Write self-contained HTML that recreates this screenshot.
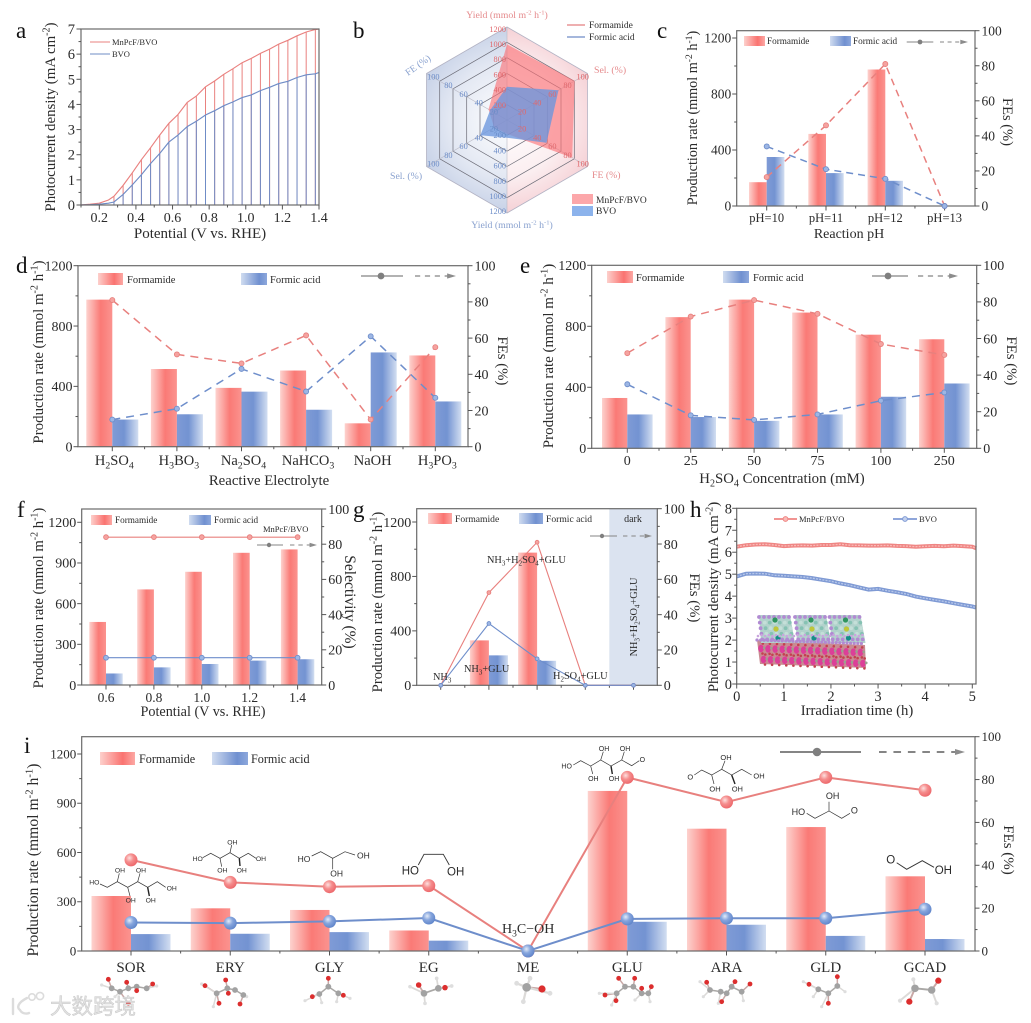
<!DOCTYPE html>
<html lang="en">
<head>
<meta charset="utf-8">
<title>Formamide electrosynthesis performance figure</title>
<style>
html,body{margin:0;padding:0;background:#fff;width:1031px;height:1023px;overflow:hidden}
svg{display:block;filter:blur(0.35px)}
text{font-family:"Liberation Serif","Noto Serif CJK SC",serif;fill:#2b2b2b}
</style>
</head>
<body>
<svg id="fig" xmlns="http://www.w3.org/2000/svg" width="1031" height="1023" viewBox="0 0 1031 1023">
<defs>
<linearGradient id="barForm" x1="0" x2="1" y1="0" y2="0"><stop offset="0" stop-color="#fdd2ce"/><stop offset=".55" stop-color="#fa7a76"/><stop offset="1" stop-color="#fb938f"/></linearGradient>
<linearGradient id="barFormic" x1="0" x2="1" y1="0" y2="0"><stop offset="0" stop-color="#7f9bd6"/><stop offset=".45" stop-color="#7393d2"/><stop offset="1" stop-color="#d2def1"/></linearGradient>
<linearGradient id="legForm" x1="0" x2="1" y1="0" y2="0"><stop offset="0" stop-color="#fdd0cc"/><stop offset=".65" stop-color="#fa7370"/><stop offset="1" stop-color="#fca9a5"/></linearGradient>
<linearGradient id="legFormic" x1="0" x2="1" y1="0" y2="0"><stop offset="0" stop-color="#d0dcf0"/><stop offset=".7" stop-color="#7090d0"/><stop offset="1" stop-color="#8da8dc"/></linearGradient>
<radialGradient id="ballRed" cx=".38" cy=".35" r=".7"><stop offset="0" stop-color="#fde0df"/><stop offset=".45" stop-color="#f58d8d"/><stop offset="1" stop-color="#ec6468"/></radialGradient>
<radialGradient id="ballBlue" cx=".38" cy=".35" r=".7"><stop offset="0" stop-color="#e3ebf8"/><stop offset=".45" stop-color="#86a5dd"/><stop offset="1" stop-color="#5d83c9"/></radialGradient>
<radialGradient id="radarPink" gradientUnits="userSpaceOnUse" cx="507" cy="120" r="95"><stop offset="0" stop-color="#fff"/><stop offset=".6" stop-color="#fbeef0"/><stop offset="1" stop-color="#f5cfd4"/></radialGradient>
<radialGradient id="radarBlue" gradientUnits="userSpaceOnUse" cx="507" cy="120" r="95"><stop offset="0" stop-color="#fff"/><stop offset=".6" stop-color="#e3e8f3"/><stop offset="1" stop-color="#c5d0e6"/></radialGradient>
</defs>
<g id="panel-a"></g>
<g id="panel-b"></g>
<g id="panel-c"></g>
<g id="panel-d"></g>
<g id="panel-e"></g>
<g id="panel-f"></g>
<g id="panel-g"></g>
<g id="panel-h"></g>
<g id="panel-i"></g>
<g id="watermark"></g>
</svg>
<script>
/* ---------- panel a data ---------- */
const aDarkPotential = [0.1, 0.15, 0.2, 0.25];
const aDarkMnPcF = [0, 0.03, 0.07, 0.2];
const aDarkBVO = [0, 0.01, 0.03, 0.07];
const aPotential = [0.28,0.33,0.38,0.43,0.48,0.53,0.58,0.63,0.68,0.73,0.78,0.83,0.88,0.93,0.98,1.03,1.08,1.13,1.18,1.23,1.28,1.33,1.38,1.4];
const aMnPcF = [0.35,0.78,1.28,1.8,2.28,2.78,3.25,3.6,4.08,4.33,4.7,4.93,5.2,5.42,5.66,5.83,6.03,6.2,6.4,6.55,6.73,6.88,6.98,7.0];
const aBVO = [0.12,0.42,0.8,1.2,1.65,2.05,2.5,2.78,3.12,3.33,3.58,3.75,3.95,4.1,4.27,4.38,4.55,4.68,4.83,4.92,5.07,5.18,5.22,5.27];
const aXTicks = [0.2,0.4,0.6,0.8,1.0,1.2,1.4];
const aYTicks = [0,1,2,3,4,5,6,7];
/* ---------- panel b data ---------- */
const bAxisMax = [1200,100,100,1200,100,100];
const bMnPcF = [975,84,81,180,16,23];
const bBVO = [430,64,49,230,33,21];
const bYieldTicks = [200,400,600,800,1000,1200];
const bPctTicks = [20,40,60,80,100];
/* ---------- panel c data ---------- */
const cCats = ['pH=10','pH=11','pH=12','pH=13'];
const cFormamide = [170,515,975,0];
const cFormic = [350,235,180,0];
const cFEFormamide = [16.5,46,81,0];
const cFEFormic = [34,21,15.5,0];
const cLeftTicks = [0,400,800,1200];
const cRightTicks = [0,20,40,60,80,100];
/* ---------- panel d data ---------- */
const dCats = ['H_{2}SO_{4}','H_{3}BO_{3}','Na_{2}SO_{4}','NaHCO_{3}','NaOH','H_{3}PO_{3}'];
const dFormamide = [975,515,390,505,155,605];
const dFormic = [180,215,365,245,625,300];
const dFEFormamide = [81,51,46,61.5,15,55];
const dFEFormic = [15,21,43,30.5,61,27];
const dLeftTicks = [0,400,800,1200];
const dRightTicks = [0,20,40,60,80,100];
/* ---------- panel e data ---------- */
const eCats = ['0','25','50','75','100','250'];
const eFormamide = [330,860,975,890,745,715];
const eFormic = [222,205,180,222,338,425];
const eFEFormamide = [52,72,81,73.5,57,51];
const eFEFormic = [35,18,15.5,18.5,26,30.5];
const eLeftTicks = [0,400,800,1200];
const eRightTicks = [0,20,40,60,80,100];
/* ---------- panel f data ---------- */
const fCats = ['0.6','0.8','1.0','1.2','1.4'];
const fFormamide = [465,705,835,975,1000];
const fFormic = [85,130,155,180,190];
const fSelFormamide = [84,84,84,84,84];
const fSelFormic = [15.5,15.5,15.5,15.5,15.5];
const fLeftTicks = [0,300,600,900,1200];
const fRightTicks = [0,20,40,60,80,100];
/* ---------- panel g data ---------- */
const gCats = ['','','','',''];
const gFormamide = [0,330,975,0,0];
const gFormic = [0,220,180,0,0];
const gFEFormamide = [0,52.5,81,0,0];
const gFEFormic = [0,35,15,0,0];
const gLeftTicks = [0,400,800,1200];
const gRightTicks = [0,20,40,60,80,100];
/* ---------- panel h data ---------- */
const hTime = [0,0.2,0.4,0.6,0.8,1.0,1.2,1.4,1.6,1.8,2.0,2.2,2.4,2.6,2.8,3.0,3.2,3.4,3.6,3.8,4.0,4.2,4.4,4.6,4.8,5.0,5.08];
const hMnPcF = [6.25,6.32,6.35,6.36,6.33,6.28,6.3,6.31,6.3,6.33,6.33,6.36,6.32,6.31,6.3,6.3,6.31,6.29,6.28,6.25,6.27,6.29,6.27,6.3,6.28,6.25,6.18];
const hBVO = [4.9,5.02,5.03,5.02,4.95,4.93,4.9,4.87,4.82,4.75,4.68,4.58,4.5,4.4,4.3,4.33,4.25,4.18,4.1,3.98,3.9,3.83,3.76,3.68,3.6,3.53,3.48];
const hXTicks = [0,1,2,3,4,5];
const hYTicks = [0,1,2,3,4,5,6,7,8];
/* ---------- panel i data ---------- */
const iCats = ['SOR','ERY','GLY','EG','ME','GLU','ARA','GLD','GCAD'];
const iFormamide = [335,260,250,125,0,975,745,755,455];
const iFormic = [103,105,115,63,0,178,160,92,73];
const iFEFormamide = [42.5,32,30,30.5,0,81,69.5,81,75];
const iFEFormic = [13.3,13,13.8,15.4,0,15,15.3,15.3,19.5];
const iLeftTicks = [0,300,600,900,1200];
const iRightTicks = [0,20,40,60,80,100];

const NS = 'http://www.w3.org/2000/svg';
const $ = id => document.getElementById(id);
function mk(tag, attrs, parent){
  const el = document.createElementNS(NS, tag);
  for (const k in attrs) el.setAttribute(k, attrs[k]);
  parent.appendChild(el);
  return el;
}
/* text with _{sub} and ^{sup} */
function txt(parent, x, y, str, o){
  o = o || {};
  const size = o.size || 14;
  const t = mk('text', {x:x, y:y, 'font-size':size, 'text-anchor':o.anchor||'start'}, parent);
  if (o.fill) t.style.fill = o.fill;
  if (o.family) t.style.fontFamily = o.family;
  if (o.rotate !== undefined) t.setAttribute('transform', 'rotate(' + o.rotate + ' ' + x + ' ' + y + ')');
  const parts = str.split(/(\^\{[^}]*\}|_\{[^}]*\})/).filter(s => s !== '');
  let cur = 0;
  parts.forEach(s => {
    const sup = s.startsWith('^{'), sub = s.startsWith('_{');
    const want = sup ? -size*0.36 : sub ? size*0.24 : 0;
    const ts = mk('tspan', {dy:(want-cur).toFixed(2)}, t);
    ts.setAttribute('font-size', (sup||sub) ? size*0.68 : size);
    ts.textContent = (sup||sub) ? s.slice(2,-1) : s;
    cur = want;
  });
  return t;
}
function panelLetter(g, x, y, s){
  const t = txt(g, x, y, s, {size:23});
  t.style.fill = '#111';
  
  
}
function frame(g, p){
  const el = mk('rect', {x:p.l, y:p.t, width:p.r-p.l, height:p.b-p.t, fill:'none', stroke:'#6a6a6a', 'stroke-width':1.2}, g);
  
  
}
function tick(g, x1, y1, x2, y2){
  const el = mk('line', {x1:x1, y1:y1, x2:x2, y2:y2, stroke:'#555', 'stroke-width':1}, g);
  
  
}
function axisY(g, ticks, scale, xAxis, dir, fs, labelX, anchor){
  ticks.forEach((v, i) => {
    const y = scale(v);
    tick(g, xAxis, y, xAxis + dir*4.5, y);
    if (i < ticks.length-1){
      const m = scale((v + ticks[i+1]) / 2);
      tick(g, xAxis, m, xAxis + dir*2.5, m);
    }
    const t = txt(g, labelX, y + fs*0.34, String(v), {size:fs, anchor:anchor});
    
    
  });
}
function title(g, x, y, s, size, rot, name){
  const t = txt(g, x, y, s, {size:size, anchor:'middle', rotate:rot});
  
  
}
function legendBox(g, x, y, w, h, fill, label, tx, ty, size){
  const r = mk('rect', {x:x, y:y, width:w, height:h, fill:fill}, g);
  
  
  const t = txt(g, tx, ty, label, {size:size});
  
  
}
function keyGlyph(g, x1, x2, cx, r, d1, d2, y, sw){
  sw = sw || 1.3;
  const a = mk('line', {x1:x1, x2:x2, y1:y, y2:y, stroke:'#858585', 'stroke-width':sw}, g);
  
  
  const c = mk('circle', {cx:cx, cy:y, r:r, fill:'#7f7f7f'}, g);
  
  
  const ah = 2.4 + r*0.6;
  const b = mk('line', {x1:d1, x2:d2-ah, y1:y, y2:y, stroke:'#858585', 'stroke-width':sw, 'stroke-dasharray':(sw*4)+' '+(sw*3.6)}, g);
  
  
  const h = mk('polygon', {points:[d2,y, d2-ah*2,y-ah*0.6, d2-ah*2,y+ah*0.6].join(' '), fill:'#8c8c8c'}, g);
  
  
}
function linear(zero, atMax, max){ return v => zero + (atMax - zero) * v / max; }

/* generic combo chart: bars on left axis, line on right axis */
function combo(g, p, cats, form, formic, feF, feA, leftTicks, rightTicks){
  const yL = linear(p.b, p.yTop, p.yMax);
  const yR = linear(p.b, p.t, 100);
  const X = i => p.x0 + i * p.step;
  if (p.under) p.under(yL, yR);
  cats.forEach((c, i) => {
    const a = mk('rect', {x:X(i)-p.w, y:yL(form[i]), width:p.w, height:p.b-yL(form[i]), fill:'url(#barForm)'}, g);
    
    
    const b = mk('rect', {x:X(i), y:yL(formic[i]), width:p.w, height:p.b-yL(formic[i]), fill:'url(#barFormic)'}, g);
    
    
  });
  frame(g, p);
  axisY(g, leftTicks, yL, p.l, -1, p.fs, p.l-5.5, 'end');
  axisY(g, rightTicks, yR, p.r, 1, p.fs, p.r+6.5, 'start');
  cats.forEach((c, i) => {
    tick(g, X(i), p.b, X(i), p.b+4.5);
    if (i < cats.length-1) tick(g, X(i)+p.step/2, p.b, X(i)+p.step/2, p.b+2.5);
    if (c){
      const t = txt(g, X(i)+(p.labelDx||0), p.tickBase, c, {size:p.catFs||p.fs, anchor:'middle'});
      
      
    }
  });
  const series = [[feF,'#e8807e','url(#ballRed)','#f5a3a0'],
                  [feA,'#6e8ecb','url(#ballBlue)','#9db6e4']];
  series.forEach(s => {
    const pts = s[0].map((v, i) => X(i).toFixed(1) + ',' + yR(v).toFixed(1)).join(' ');
    const line = mk('polyline', {points:pts, fill:'none', stroke:s[1], 'stroke-width':p.lw}, g);
    if (p.dash) line.setAttribute('stroke-dasharray', p.dash);
    
    
    s[0].forEach((v, i) => {
      const m = mk('circle', {cx:X(i), cy:yR(v), r:p.mr, fill:p.ball ? s[2] : s[3], stroke:p.ball ? 'none' : s[1], 'stroke-width':0.9}, g);
      
      
    });
  });
}

/* ---------- Panel a ---------- */
(function(){
  const g = $('panel-a');
  panelLetter(g, 16, 38, 'a');
  const p = {l:81, r:319, t:29, b:205};
  const unit = (319-81)/1.3;
  const X = linear(81 - 0.1*unit, 81 - 0.1*unit + unit, 1);
  const Y = linear(205, 29, 7);
  function chop(dark, on, color, name){
    const allX = aDarkPotential.concat(aPotential);
    const allY = dark.concat(on);
    const env = mk('polyline', {points:allX.map((v, i) => X(v).toFixed(1) + ',' + Y(allY[i]).toFixed(1)).join(' '), fill:'none', stroke:color, 'stroke-width':1.15}, g);
    
    
    const base = mk('line', {x1:X(aPotential[0]), x2:X(1.4), y1:p.b, y2:p.b, stroke:color, 'stroke-width':1.1}, g);
    
    
    aPotential.forEach((v, i) => {
      const s = mk('line', {x1:X(v), x2:X(v), y1:Y(on[i]), y2:p.b, stroke:color, 'stroke-width':1}, g);
      
      
    });
  }
  chop(aDarkMnPcF, aMnPcF, '#e9817f', 'series-mnpcf-bvo');
  chop(aDarkBVO, aBVO, '#6f8cc6', 'series-bvo');
  frame(g, p);
  aYTicks.forEach((v, i) => {
    tick(g, p.l, Y(v), p.l-4.5, Y(v));
    if (i < aYTicks.length-1) tick(g, p.l, Y(v+0.5), p.l-2.5, Y(v+0.5));
    const t = txt(g, 75, Y(v)+5, String(v), {size:14.5, anchor:'end'});
    
    
  });
  aXTicks.forEach(v => {
    tick(g, X(v), p.b, X(v), p.b+4.5);
    tick(g, X(v-0.1), p.b, X(v-0.1), p.b+2.5);
    const t = txt(g, X(v), 222, v.toFixed(1), {size:14, anchor:'middle'});
    
    
  });
  title(g, 200, 238, 'Potential (V vs. RHE)', 15, 0, 'x-axis-title');
  title(g, 55, 117, 'Photocurrent density (mA cm^{-2})', 14.9, -90, 'y-axis-title');
  const l1 = mk('line', {x1:90, x2:110, y1:42, y2:42, stroke:'#e9817f', 'stroke-width':1.1}, g);
  
  
  const l2 = mk('line', {x1:90, x2:110, y1:54, y2:54, stroke:'#6f8cc6', 'stroke-width':1.1}, g);
  
  
  const t1 = txt(g, 112, 45, 'MnPcF/BVO', {size:8.5});
  
  
  const t2 = txt(g, 112, 57, 'BVO', {size:8.5});
  
  
})();

/* ---------- Panel b ---------- */
(function(){
  const g = $('panel-b');
  panelLetter(g, 353, 38, 'b');
  const cx = 507, cy = 120, R = 93;
  const pt = (i, f) => {
    const a = (-90 + 60*i) * Math.PI/180;
    return [cx + R*f*Math.cos(a), cy + R*f*Math.sin(a)];
  };
  const poly = arr => arr.map(q => q[0].toFixed(1) + ',' + q[1].toFixed(1)).join(' ');
  const right = mk('polygon', {points:poly([pt(0,1),pt(1,1),pt(2,1),pt(3,1)]), fill:'url(#radarPink)'}, g);
  
  
  const left = mk('polygon', {points:poly([pt(3,1),pt(4,1),pt(5,1),pt(0,1)]), fill:'url(#radarBlue)'}, g);
  
  
  [1,0.835,0.67,0.5,0.335,0.165].forEach((f, k) => {
    const ring = mk('polygon', {points:poly([0,1,2,3,4,5].map(i => pt(i,f))), fill:'none', stroke:k === 0 ? '#b3b3c4' : '#6b6b76', 'stroke-width':k === 0 ? 0.8 : 0.7}, g);
    
    
  });
  for (let i = 0; i < 6; i++){
    const e = pt(i,1);
    const sp = mk('line', {x1:cx, y1:cy, x2:e[0], y2:e[1], stroke:'#b9b9c4', 'stroke-width':0.6}, g);
    
    
  }
  const a = mk('polygon', {points:poly(bMnPcF.map((v, i) => pt(i, v/bAxisMax[i]))), fill:'#fa6f74', 'fill-opacity':0.62}, g);
  
  
  const b = mk('polygon', {points:poly(bBVO.map((v, i) => pt(i, v/bAxisMax[i]))), fill:'#6a96de', 'fill-opacity':0.78}, g);
  
  
  const red = '#e58a8c', blue = '#8aa2cf';
  bYieldTicks.forEach(v => {
    const y1 = pt(0, v/1200*0.98)[1], y2 = pt(3, v/1200*0.98)[1];
    const t1 = txt(g, 506, y1+3, String(v), {size:8.3, anchor:'end', fill:'#e0686c'});
    
    
    const t2 = txt(g, 506, y2+3, String(v), {size:8.3, anchor:'end', fill:'#6b8cc8'});
    
    
  });
  bPctTicks.forEach(v => {
    const f = v/100;
    [[1,'#e0686c'],[2,'#e0686c'],[4,'#6b8cc8'],[5,'#6b8cc8']].forEach(c => {
      const q = pt(c[0], f*0.94);
      const t = txt(g, q[0]+(c[0] < 3 ? 0 : 2), q[1]+3, String(v), {size:8.3, anchor:'middle', fill:c[1]});
      
      
    });
  });
  const titles = [[507,18,'Yield (mmol m^{-2} h^{-1})',red,0,'middle'],[594,73,'Sel. (%)',red,0,'start'],[592,178,'FE (%)',red,0,'start'],
                  [512,228,'Yield (mmol m^{-2} h^{-1})',blue,0,'middle'],[390,179,'Sel. (%)',blue,0,'start'],[408,76,'FE (%)',blue,-35,'start']];
  titles.forEach(c => {
    const t = txt(g, c[0], c[1], c[2], {size:9.8, fill:c[3], anchor:c[5], rotate:c[4]});
    
    
  });
  const k1 = mk('line', {x1:567, x2:585, y1:25, y2:25, stroke:'#e37f80', 'stroke-width':1.2}, g);
  
  
  const k2 = mk('line', {x1:567, x2:585, y1:37, y2:37, stroke:'#6f8cc6', 'stroke-width':1.2}, g);
  
  
  const t3 = txt(g, 589, 28, 'Formamide', {size:9.5});
  
  
  const t4 = txt(g, 589, 40, 'Formic acid', {size:9.5});
  
  
  legendBox(g, 572, 194, 21, 10, '#fca7aa', 'MnPcF/BVO', 596, 203, 9.5);
  legendBox(g, 572, 206, 21, 10, '#8cb3ec', 'BVO', 596, 214, 9.5);
})();

/* ---------- Panel c ---------- */
(function(){
  const g = $('panel-c');
  panelLetter(g, 657, 38, 'c');
  combo(g, {l:736.7,r:975,t:30.7,b:206,yTop:38,yMax:1200,x0:766.7,step:59.3,w:17.7,fs:13.5,tickBase:222,lw:1.5,dash:'7 5',mr:2.5,catFs:12.5},
    cCats, cFormamide, cFormic, cFEFormamide, cFEFormic, cLeftTicks, cRightTicks);
  title(g, 697, 118, 'Production rate (mmol m^{-2} h^{-1})', 14.2, -90, 'y-axis-title');
  title(g, 849, 238, 'Reaction pH', 14, 0, 'x-axis-title');
  title(g, 1003, 122, 'FEs (%)', 14.5, 90, 'right-axis-title');
  legendBox(g, 744, 36, 21, 10, 'url(#legForm)', 'Formamide', 767, 44, 9.2);
  legendBox(g, 830, 36, 21, 10, 'url(#legFormic)', 'Formic acid', 853, 44, 9.2);
  keyGlyph(g, 906.7, 933.3, 920, 2.4, 940, 968, 42, 1);
})();

/* ---------- Panel d ---------- */
(function(){
  const g = $('panel-d');
  panelLetter(g, 16, 273, 'd');
  combo(g, {l:78,r:468,t:265.7,b:446.7,yTop:265.7,yMax:1200,x0:112.3,step:64.6,w:26,fs:14,tickBase:465,lw:1.5,dash:'8 6',mr:2.5,labelDx:2,catFs:14.5},
    dCats, dFormamide, dFormic, dFEFormamide, dFEFormic, dLeftTicks, dRightTicks);
  title(g, 43, 352, 'Production rate (mmol m^{-2} h^{-1})', 14.9, -90, 'y-axis-title');
  title(g, 269, 485, 'Reactive Electrolyte', 14.8, 0, 'x-axis-title');
  title(g, 498, 361, 'FEs (%)', 14.8, 90, 'right-axis-title');
  legendBox(g, 98, 273, 25, 12, 'url(#legForm)', 'Formamide', 127, 283, 10.5);
  legendBox(g, 241, 273, 26, 12, 'url(#legFormic)', 'Formic acid', 270, 283, 10.5);
  keyGlyph(g, 361, 403, 381, 3.4, 415, 456, 276);
})();

/* ---------- Panel e ---------- */
(function(){
  const g = $('panel-e');
  panelLetter(g, 520, 273, 'e');
  combo(g, {l:591.7,r:976.7,t:265.3,b:448.3,yTop:265.3,yMax:1200,x0:627.3,step:63.4,w:25.3,fs:14,tickBase:465,lw:1.5,dash:'8 6',mr:2.5},
    eCats, eFormamide, eFormic, eFEFormamide, eFEFormic, eLeftTicks, eRightTicks);
  title(g, 553, 356, 'Production rate (mmol m^{-2} h^{-1})', 15, -90, 'y-axis-title');
  title(g, 782, 483, 'H_{2}SO_{4} Concentration (mM)', 14.8, 0, 'x-axis-title');
  title(g, 1007, 361, 'FEs (%)', 14.8, 90, 'right-axis-title');
  legendBox(g, 607, 271, 26, 12, 'url(#legForm)', 'Formamide', 636, 281, 10.5);
  legendBox(g, 723, 271, 26, 12, 'url(#legFormic)', 'Formic acid', 753, 281, 10.5);
  keyGlyph(g, 872, 908, 888, 3.4, 918, 958, 276);
})();

/* ---------- Panel f ---------- */
(function(){
  const g = $('panel-f');
  panelLetter(g, 17, 517, 'f');
  combo(g, {l:81.7,r:321.7,t:509,b:685,yTop:522.3,yMax:1200,x0:106,step:47.9,w:16.7,fs:14,tickBase:702,lw:1.1,mr:2.4,catFs:13.5},
    fCats, fFormamide, fFormic, fSelFormamide, fSelFormic, fLeftTicks, fRightTicks);
  title(g, 43, 598, 'Production rate (mmol m^{-2} h^{-1})', 14.7, -90, 'y-axis-title');
  title(g, 203, 716, 'Potential (V vs. RHE)', 14.2, 0, 'x-axis-title');
  title(g, 345, 602, 'Selectivity (%)', 15.5, 90, 'right-axis-title');
  legendBox(g, 91, 515, 21, 10, 'url(#legForm)', 'Formamide', 115, 523, 9.2);
  legendBox(g, 189, 515, 22, 10, 'url(#legFormic)', 'Formic acid', 214, 523, 9.2);
  const c = txt(g, 263, 532, 'MnPcF/BVO', {size:8.5});
  
  
  keyGlyph(g, 257, 283, 269, 2.2, 290, 317, 545, 1.1);
})();

/* ---------- Panel g ---------- */
(function(){
  const g = $('panel-g');
  panelLetter(g, 353, 517, 'g');
  combo(g, {l:416.7,r:657.3,t:508.7,b:685.3,yTop:522,yMax:1200,x0:440.7,step:48.2,w:19,fs:14,tickBase:702,lw:1.1,mr:1.9,
    under:function(){
      const d = mk('rect', {x:609.3, y:508.7, width:48, height:176.6, fill:'#dbe3f0'}, g);
      
      
    }},
    gCats, gFormamide, gFormic, gFEFormamide, gFEFormic, gLeftTicks, gRightTicks);
  title(g, 382, 602, 'Production rate (mmol m^{-2} h^{-1})', 14.7, -90, 'y-axis-title');
  title(g, 690, 598, 'FEs (%)', 14.8, 90, 'right-axis-title');
  legendBox(g, 428, 513, 24, 11, 'url(#legForm)', 'Formamide', 455, 522, 9.6);
  legendBox(g, 519, 513, 24, 11, 'url(#legFormic)', 'Formic acid', 546, 522, 9.6);
  const dk = txt(g, 633, 522, 'dark', {size:10, anchor:'middle'});
  
  
  keyGlyph(g, 590, 617, 602, 2.2, 623, 652, 536, 1.1);
  const notes = [[433,680,'NH_{3}'],[464,672,'NH_{3}+GLU'],[487,563,'NH_{3}+H_{2}SO_{4}+GLU'],[553,679,'H_{2}SO_{4}+GLU']];
  notes.forEach(n => {
    const t = txt(g, n[0], n[1], n[2], {size:10.3});
    
    
  });
  const v = txt(g, 637, 617, 'NH_{3}+H_{2}SO_{4}+GLU', {size:10.3, anchor:'middle', rotate:-90});
  
  
})();

/* ---------- Panel h ---------- */
(function(){
  const g = $('panel-h');
  panelLetter(g, 690, 517, 'h');
  const p = {l:736.7, r:976, t:508.3, b:684};
  const X = v => p.l + (972.3 - p.l) * v / 5;
  const Y = linear(p.b, p.t, 8);
  function band(vals, outer, inner, name){
    const pts = vals.map((v, i) => X(hTime[i]).toFixed(1) + ',' + Y(v).toFixed(1)).join(' ');
    const a = mk('polyline', {points:pts, fill:'none', stroke:outer, 'stroke-width':4}, g);
    
    
    const b = mk('polyline', {points:pts, fill:'none', stroke:inner, 'stroke-width':1.3, 'stroke-dasharray':'2 1.2'}, g);
    
    
  }
  band(hMnPcF, '#ef8583', '#f9bab7', 'series-mnpcf-bvo');
  band(hBVO, '#7f9ad4', '#b6c7ea', 'series-bvo');
  frame(g, p);
  hYTicks.forEach((v, i) => {
    tick(g, p.l, Y(v), p.l-4.5, Y(v));
    if (i < hYTicks.length-1) tick(g, p.l, Y(v+0.5), p.l-2.5, Y(v+0.5));
    const t = txt(g, 732, Y(v)+5, String(v), {size:14.5, anchor:'end'});
    
    
  });
  hXTicks.forEach(v => {
    tick(g, X(v), p.b, X(v), p.b+4.5);
    if (v < 5) tick(g, X(v+0.5), p.b, X(v+0.5), p.b+2.5);
    const t = txt(g, X(v), 701, String(v), {size:14.5, anchor:'middle'});
    
    
  });
  title(g, 857, 715, 'Irradiation time (h)', 14.7, 0, 'x-axis-title');
  title(g, 718, 597, 'Photocurrent density (mA cm^{-2})', 15, -90, 'y-axis-title');
  [[774,797,519,'#ef8583','#f9bab7','MnPcF/BVO',799],[893,917,519,'#7f9ad4','#c3d1ee','BVO',919]].forEach(k => {
    const l = mk('line', {x1:k[0], x2:k[1], y1:k[2], y2:k[2], stroke:k[3], 'stroke-width':1.8}, g);
    
    
    const c = mk('circle', {cx:(k[0]+k[1])/2, cy:k[2], r:2.4, fill:k[4], stroke:k[3], 'stroke-width':1}, g);
    
    
    const t = txt(g, k[6], 522, k[5], {size:8.5});
    
    
  });
  /* crystal structure inset */
  const ins = mk('g', {}, g);
  
  
  const base = mk('polygon', {points:'757,640 865,645 866,668 760,664', fill:'#c98a92'}, ins);
  
  
  for (let r = 0; r < 2; r++){
    for (let c = 0; c < 15; c++){
      const x = 761 + c*7.1 + (r ? 3 : 0) - r*0.5, y = 648.5 + r*11 + c*0.28;
      mk('ellipse', {cx:x, cy:y, rx:2.8, ry:3.8, fill:'#dc3f98'}, ins);
      mk('circle', {cx:x+3.3, cy:y-0.5, r:1.4, fill:'#9aa08f'}, ins);
      mk('circle', {cx:x+1.5, cy:y+5, r:1.3, fill:'#c3414f'}, ins);
      mk('circle', {cx:x+1.8, cy:y-5, r:1.3, fill:'#c3414f'}, ins);
    }
  }
  [[759,618],[795,618],[829.5,618]].forEach(o => {
    const b = mk('polygon', {points:[o[0],o[1]-3,o[0]+31,o[1]-3,o[0]+36,o[1]+25,o[0]+2,o[1]+25].join(' '), fill:'#b2d2cc'}, ins);
    
    
    for (let r = 0; r < 5; r++){
      for (let c = 0; c < 7; c++){
        const x = o[0] + c*5 + r*0.8, y = o[1] - 1 + r*5.6;
        mk('circle', {cx:x, cy:y, r:1.9, fill:(c === 0 || r === 0 || (r === 4)) ? '#b18ad2' : (c+r) % 2 ? '#86c2b3' : '#c4dfd8'}, ins);
      }
    }
    mk('circle', {cx:o[0]+16, cy:o[1]+2, r:2.6, fill:'#2f955f'}, ins);
    mk('circle', {cx:o[0]+17, cy:o[1]+11, r:2.6, fill:'#bfc63a'}, ins);
    mk('circle', {cx:o[0]+19, cy:o[1]+20, r:2.6, fill:'#148e88'}, ins);
  });
  for (let c = 0; c < 30; c++){
    mk('circle', {cx:757 + c*3.6, cy:640 + c*0.12, r:1.6, fill:'#b18ad2'}, ins);
    mk('circle', {cx:758 + c*3.6, cy:636 - (c%2), r:1.3, fill:'#c9a5dd'}, ins);
  }
})();

/* ---------- Panel i ---------- */
(function(){
  const g = $('panel-i');
  panelLetter(g, 24, 753, 'i');
  combo(g, {l:81.7,r:975,t:736.7,b:951,yTop:754,yMax:1200,x0:131,step:99.25,w:39.5,fs:13,tickBase:972,lw:2,mr:6.5,ball:true,catFs:15},
    iCats, iFormamide, iFormic, iFEFormamide, iFEFormic, iLeftTicks, iRightTicks);
  title(g, 38, 860, 'Production rate (mmol m^{-2} h^{-1})', 15.7, -90, 'y-axis-title');
  title(g, 1004, 850, 'FEs (%)', 15, 90, 'right-axis-title');
  legendBox(g, 100, 752, 35, 13, 'url(#legForm)', 'Formamide', 139, 763, 12.2);
  legendBox(g, 212, 752, 36, 13, 'url(#legFormic)', 'Formic acid', 251, 763, 12.2);
  keyGlyph(g, 780, 861, 817, 4.3, 879, 965, 752, 1.9);

  /* skeletal structures (coordinates in 3x zoom space) */
  function skeleton(name, ox, oy, chain, extras, labels, size, wedges){
    const s = mk('g', {}, g);
    
    
    const P = q => (ox + q[0]/3).toFixed(1) + ',' + (oy + q[1]/3).toFixed(1);
    mk('polyline', {points:chain.map(P).join(' '), fill:'none', stroke:'#333', 'stroke-width':size > 9 ? 0.9 : 0.7}, s);
    (extras||[]).forEach(e => {
      mk('polyline', {points:e.map(P).join(' '), fill:'none', stroke:'#333', 'stroke-width':size > 9 ? 0.9 : 0.7}, s);
    });
    (wedges||[]).forEach(e => {
      mk('line', {x1:ox+e[0]/3, y1:oy+e[1]/3, x2:ox+e[2]/3, y2:oy+e[3]/3, stroke:'#222', 'stroke-width':1.4}, s);
    });
    labels.forEach(l => {
      const t = txt(s, ox + l[1]/3, oy + l[2]/3 + size*0.35, l[0], {size:size, anchor:'middle', family:'"Liberation Sans",sans-serif'});
      
      
    });
  }
  skeleton('sorbitol-structure', 0, 730, [[300,462],[322,472],[352,455],[383,472],[413,455],[443,472],[472,455],[497,472]],
    [[[352,455],[358,430]],[[413,455],[420,430]],[[383,472],[390,498]]], [['HO',283,457],['OH',360,421],['OH',423,421],['OH',392,510],['OH',452,510],['OH',515,474]], 6.8, [[443,472,448,498]]);
  skeleton('erythritol-structure', 0, 730, [[608,383],[632,370],[660,385],[690,368],[718,385],[745,370],[768,385]],
    [[[690,368],[695,345]],[[660,385],[665,410]]], [['HO',593,386],['OH',783,386],['OH',697,337],['OH',667,420],['OH',725,420]], 6.8, [[718,385,720,408]]);
  skeleton('glycerol-structure', 0, 730, [[935,378],[962,365],[998,385],[1035,365],[1065,375]],
    [[[998,385],[998,418]]], [['HO',912,387],['OH',1090,377],['OH',1010,431]], 8.5);
  skeleton('ethylene-glycol-structure', 0, 730, [[1255,405],[1272,373],[1330,373],[1348,405]],
    [], [['HO',1231,421],['OH',1367,425]], 11.5);
  skeleton('glucose-structure', 510, 730, [[190,105],[212,92],[242,108],[272,90],[303,108],[335,90],[365,107],[388,92]],
    [[[272,90],[280,65]],[[335,90],[343,65]],[[242,108],[248,132]]], [['HO',170,108],['O',397,89],['OH',282,55],['OH',345,55],['OH',250,145],['OH',312,145]], 7, [[303,108,307,132]]);
  skeleton('arabinose-structure', 510, 730, [[553,135],[575,120],[605,135],[635,118],[665,135],[695,118],[725,135]],
    [[[635,118],[645,92]],[[605,135],[612,162]]], [['O',541,141],['OH',747,138],['OH',648,82],['OH',615,176],['OH',682,176]], 7.5, [[665,135,675,162]]);
  skeleton('glyceraldehyde-structure', 510, 730, [[890,250],[915,265],[957,243],[995,265],[1020,250]],
    [[[957,243],[957,215]]], [['HO',865,245],['O',1033,241],['OH',968,198]], 9);
  skeleton('glycolaldehyde-structure', 510, 730, [[1160,398],[1190,418],[1237,392],[1272,412]],
    [], [['O',1142,388],['OH',1300,420]], 11.5);
  const me = txt(g, 502, 933, 'H_{3}C\u2212OH', {size:14});
  
  

  /* ball and stick models */
  function ballStick(name, ox, oy, grays, reds, whites, k){
    const s = mk('g', {}, g);
    
    
    const P = q => [ox + q[0]/3, oy + q[1]/3];
    const gp = grays.map(P), rp = reds.map(P), wp = whites.map(P);
    const stick = (a, b, c) => mk('line', {x1:a[0], y1:a[1], x2:b[0], y2:b[1], stroke:c, 'stroke-width':1.5*k}, s);
    for (let i = 0; i < gp.length-1; i++) stick(gp[i], gp[i+1], '#aaa8a6');
    const nearest = q => gp.reduce((m, c) => Math.hypot(c[0]-q[0], c[1]-q[1]) < Math.hypot(m[0]-q[0], m[1]-q[1]) ? c : m, gp[0]);
    rp.forEach(q => stick(q, nearest(q), '#c8a8a6'));
    wp.forEach(q => stick(q, nearest(q), '#dcdad8'));
    wp.forEach(q => mk('circle', {cx:q[0], cy:q[1], r:1.6*k, fill:'#dedede'}, s));
    gp.forEach(q => mk('circle', {cx:q[0], cy:q[1], r:2.9*k, fill:'#a2a2a2'}, s));
    rp.forEach(q => mk('circle', {cx:q[0], cy:q[1], r:2.4*k, fill:'#dc2e2e'}, s));
  }
  ballStick('sor-model', 0, 730, [[335,775],[360,785],[385,775],[410,770],[440,775]], [[325,748],[380,757],[410,782],[458,762],[385,820]], [[305,765],[470,768],[345,800]], 1);
  ballStick('ery-model', 0, 730, [[650,790],[682,775],[705,780],[730,795]], [[615,767],[677,750],[685,790],[657,820],[720,822]], [[605,762],[740,800],[640,830]], 1);
  ballStick('gly-model', 0, 730, [[958,792],[985,770],[1015,790]], [[985,745],[937,800],[1030,796]], [[915,812],[1050,805],[965,818],[1010,815]], 1);
  ballStick('eg-model', 0, 730, [[1272,790],[1315,775]], [[1256,765],[1335,773]], [[1230,770],[1275,820],[1310,745],[1355,768]], 1.15);
  ballStick('me-model', 510, 730, [[50,772]], [[96,777]], [[20,760],[40,815],[120,790],[60,745]], 1.5);
  ballStick('glu-model', 510, 730, [[320,790],[345,770],[370,770],[395,790],[415,790]], [[326,745],[374,745],[285,795],[318,812],[395,775],[424,770]], [[268,790],[305,825],[375,810],[420,815]], 1);
  ballStick('ara-model', 510, 730, [[600,780],[632,785],[650,790],[665,770],[695,785]], [[590,757],[675,755],[720,762],[635,815]], [[570,755],[580,800],[625,820],[700,812]], 1);
  ballStick('gld-model', 510, 730, [[925,778],[955,790],[982,768]], [[897,763],[982,740],[955,820]], [[880,755],[910,800],[1005,785],[935,830]], 1);
  ballStick('gcad-model', 510, 730, [[1215,775],[1265,780]], [[1285,752],[1198,815]], [[1210,748],[1170,812],[1280,820]], 1.3);
})();

/* ---------- Watermark ---------- */
(function(){
  const g = $('watermark');
  const mark = 'fill:none;stroke:#dcdcdc;stroke-width:2.4;stroke-linecap:round';
  const k = mk('path', {d:'M13 999 L13 1014 M27 998 C17 1003 17 1008 20 1010 C22 1014 27 1014 29 1013', style:mark}, g);
  
  
  const c1 = mk('circle', {cx:32, cy:997, r:3.2, style:'fill:none;stroke:#dcdcdc;stroke-width:1.6'}, g);
  
  
  const c2 = mk('circle', {cx:40, cy:996, r:3.6, style:'fill:none;stroke:#dcdcdc;stroke-width:1.6'}, g);
  
  
  const t = txt(g, 50, 1014, '大数跨境', {size:21.5, family:'"Liberation Sans","Noto Sans CJK SC",sans-serif', fill:'#e2e2e2'});
  t.setAttribute('stroke', '#c9c9c9');
  t.setAttribute('stroke-width', '0.5');
  
  
})();
</script>
</body>
</html>
